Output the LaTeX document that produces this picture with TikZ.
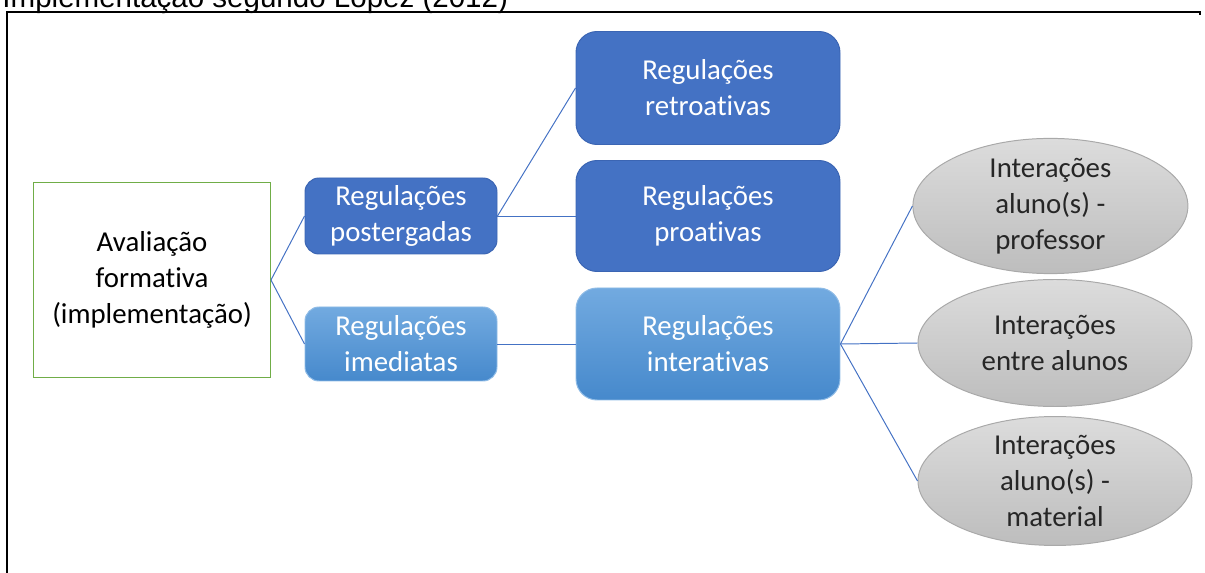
\documentclass[tikz,border=0pt]{standalone}
\usepackage{fontspec}
\setmainfont{Carlito}[Ligatures=NoCommon]
\newfontfamily\titlefont{Liberation Sans}
\usetikzlibrary{shapes.geometric}
\definecolor{regdark}{HTML}{4472C4}
\definecolor{regedge}{HTML}{3B65B3}
\definecolor{reglighttop}{HTML}{72AAE0}
\definecolor{reglightbot}{HTML}{4689CC}
\definecolor{ovaltop}{HTML}{DCDCDC}
\definecolor{ovalbot}{HTML}{BDBDBD}
\definecolor{ovaledge}{HTML}{A9A9A9}
\definecolor{avalgreen}{HTML}{70AD47}
\tikzset{
	every node/.style = {align=center, font=\fontsize{20.5}{25.5}\selectfont, inner sep=0pt},
	regdarkbox/.style = {rectangle, rounded corners=10pt, fill=regdark, draw=regedge, text=white},
	reglightbox/.style = {rectangle, rounded corners=10pt, top color=reglighttop, bottom color=reglightbot, draw=reglighttop!80!white, text=white},
	interoval/.style = {ellipse, top color=ovaltop, bottom color=ovalbot, draw=ovaledge, text=black!85},
}
\begin{document}
\begin{tikzpicture}[draw=regdark, line width=0.7pt]
	\useasboundingbox (0,0) rectangle (30.125,-14.325);
	% frame and cut title
	\node (T) at (0.05,-0.19)	[anchor=base west, font=\titlefont\fontsize{21}{25}\selectfont]	{Implementação segundo López (2012)};
	\draw[black, line width=1.4pt] (0.175,-14.4) -- (0.175,-0.3) -- (30.0,-0.3) -- (30.0,-0.38);
	% nodes
	\node (AV) at ( 3.800, -7.000)	[rectangle, draw=avalgreen, fill=white, minimum width=5.925cm, minimum height=4.875cm]	{Avaliação\\formativa\\(implementação)};
	\node (RP) at (10.025, -5.400)	[regdarkbox, minimum width=4.8cm, minimum height=1.9cm]	{Regulações\\postergadas};
	\node (RI) at (10.025, -8.600)	[reglightbox, minimum width=4.8cm, minimum height=1.85cm]	{Regulações\\imediatas};
	\node (RR) at (17.700, -2.200)	[regdarkbox, rounded corners=15pt, minimum width=6.6cm, minimum height=2.825cm]	{Regulações\\retroativas};
	\node (RA) at (17.700, -5.400)	[regdarkbox, rounded corners=15pt, minimum width=6.6cm, minimum height=2.775cm]	{Regulações\\proativas};
	\node (RN) at (17.700, -8.600)	[reglightbox, rounded corners=15pt, minimum width=6.6cm, minimum height=2.8cm]	{Regulações\\interativas};
	\node (E1) at (26.260, -5.150)	[interoval, minimum width=6.875cm, minimum height=3.075cm]	{Interações\\aluno(s) -\\professor};
	\node (E2) at (26.375, -8.575)	[interoval, minimum width=6.85cm, minimum height=3.175cm]	{Interações\\entre alunos};
	\node (E3) at (26.375,-12.025)	[interoval, minimum width=6.85cm, minimum height=3.175cm]	{Interações\\aluno(s) -\\material};
	% connectors
	\draw (AV.east) -- (RP.west);
	\draw (AV.east) -- (RI.west);
	\draw (RP.east) -- (RR.west);
	\draw (RP.east) -- (RA.west);
	\draw (RI.east) -- (RN.west);
	\draw (RN.east) -- (E1.west);
	\draw (RN.east) -- (E2.west);
	\draw (RN.east) -- (E3.west);
\end{tikzpicture}
\end{document}
